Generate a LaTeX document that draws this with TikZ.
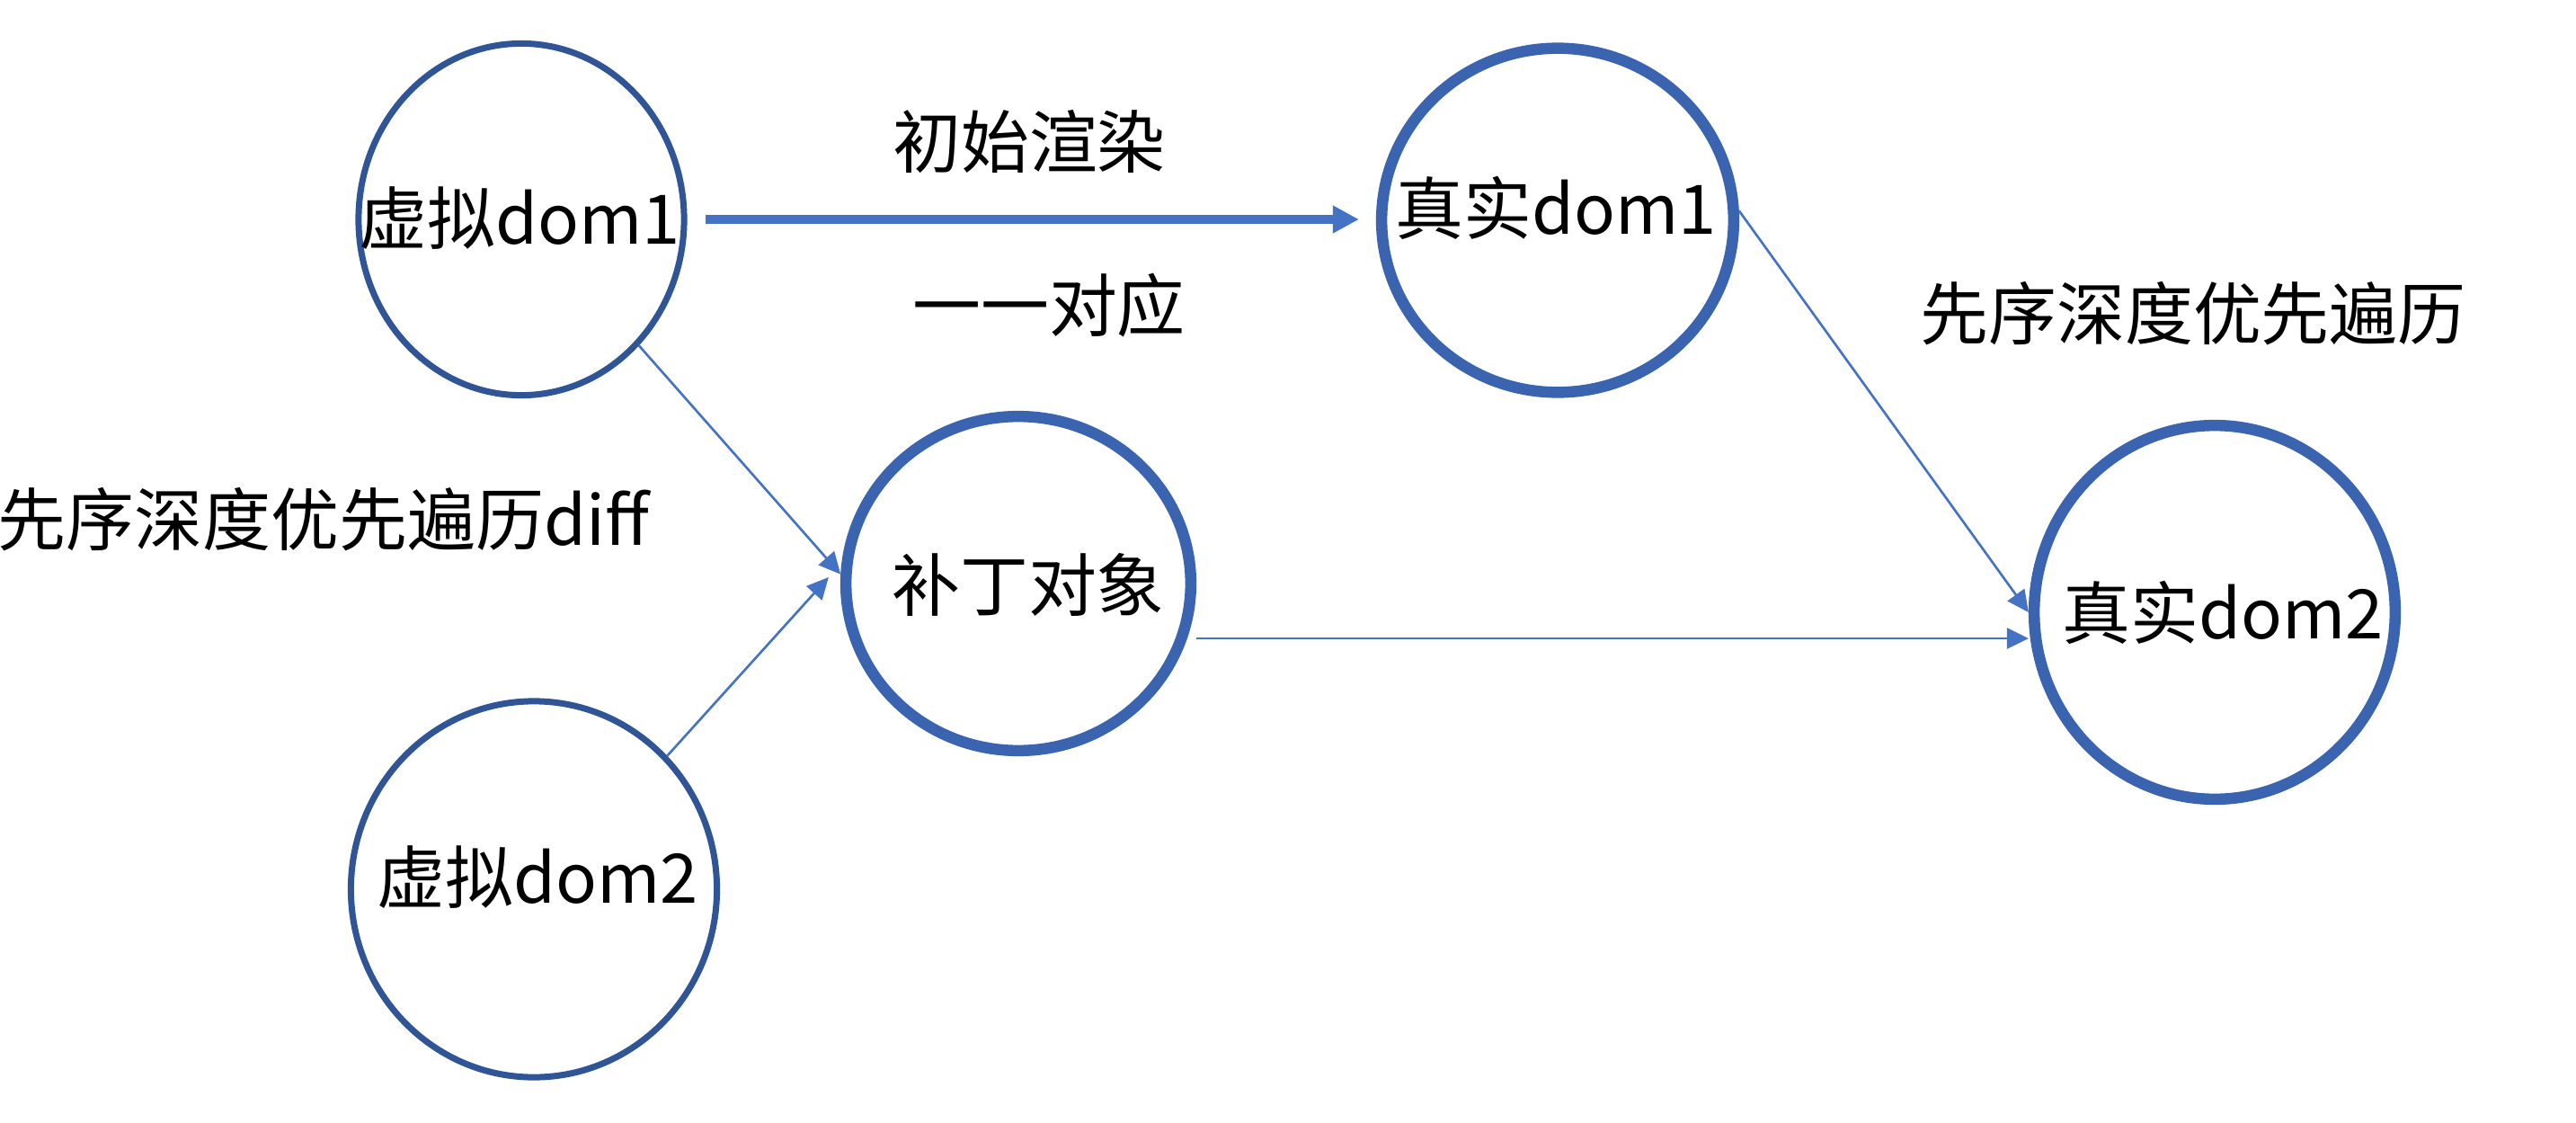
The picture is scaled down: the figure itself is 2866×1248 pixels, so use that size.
\documentclass[tikz,border=0pt]{standalone}
\usepackage{fontspec}
\setmainfont{Noto Sans CJK SC}
\usetikzlibrary{arrows.meta,shapes.geometric,calc}
\definecolor{ringthin}{HTML}{2F5597}
\definecolor{ringthick}{HTML}{3A63B0}
\definecolor{arrowblue}{HTML}{4472C4}
\begin{document}
\begin{tikzpicture}[x=0.01cm,y=-0.01cm,
  thinring/.style={ellipse,draw=ringthin,line width=1.99pt,inner sep=0pt},
  thickring/.style={ellipse,draw=ringthick,line width=3.56pt,inner sep=0pt},
  lbl/.style={font=\fontsize{21.6pt}{26pt}\selectfont,inner sep=0pt,text=black},
  thinarrow/.style={draw=arrowblue,line width=0.75pt,-{Triangle[length=0.24cm,width=0.23cm]}},
  thickarrow/.style={draw=arrowblue,line width=3.1pt,-{Triangle[length=0.29cm,width=0.29cm]}}
]
\useasboundingbox (0,0) rectangle (2866,1248);
\fill[white] (0,0) rectangle (2866,1248);

% ellipses
\node[thinring,minimum width=3.62cm,minimum height=3.91cm] (v1) at (580,244) {};
\node[thinring,minimum width=4.07cm,minimum height=4.18cm] (v2) at (594,989) {};
\node[thickring,minimum width=3.835cm,minimum height=3.715cm] (patch) at (1133,649) {};
\node[thickring,minimum width=3.915cm,minimum height=3.825cm] (r1) at (1733,245) {};
\node[thickring,minimum width=4.015cm,minimum height=4.155cm] (r2) at (2464,681) {};

% node texts
\node[lbl] (v1t) at (578,243) {虚拟dom1};
\node[lbl] (v2t) at (598,976) {虚拟dom2};
\node[lbl] (patcht) at (1144,650) {补丁对象};
\node[lbl] (r1t) at (1731,231) {真实dom1};
\node[lbl] (r2t) at (2473,681) {真实dom2};

% free labels
\node[lbl] (init) at (1145,158) {初始渲染};
\node[lbl] (corr) at (1167,340) {一一对应};
\node[lbl] (dfs) at (2440,349) {先序深度优先遍历};
\node[lbl,anchor=west] (diff) at (-3,578) {先序深度优先遍历diff};

% connectors
\draw[thickarrow,shorten <=0.2cm,shorten >=0.19cm] (v1.east) -- (v1.east -| r1.west);
\draw[thinarrow] (v1.-47) -- (patch.177);
\coordinate (pin) at ($(patch.west)+(-13,-7)$);
\draw[thinarrow] (v2.45) -- (pin);
\draw[thinarrow] (r1.3) -- (r2.west);
\coordinate (pout) at (patch.-18.5);
\draw[thinarrow,shorten <=0.1cm] (pout) -- (pout -| r2.west);
\end{tikzpicture}
\end{document}
